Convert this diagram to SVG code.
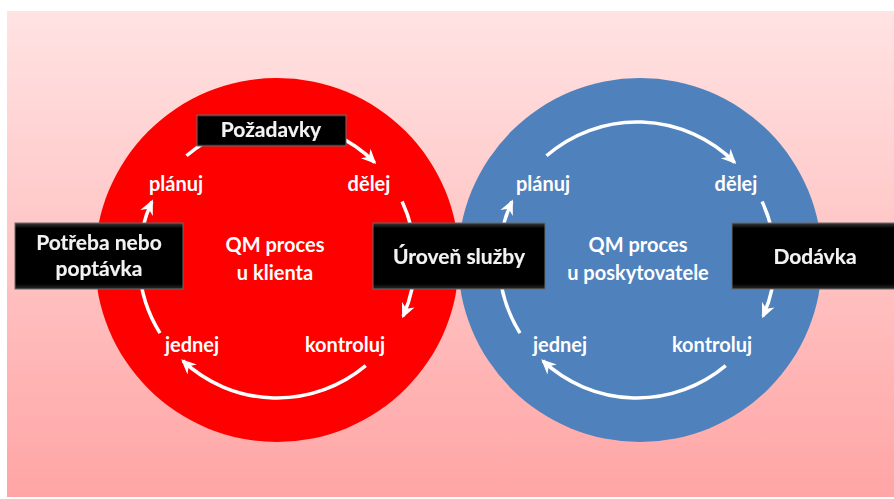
<svg xmlns="http://www.w3.org/2000/svg" width="894" height="499" viewBox="0 0 894 499">
<defs>
<linearGradient id="bg" x1="0" y1="0" x2="0" y2="1">
<stop offset="0" stop-color="#ffe3e3"/>
<stop offset="1" stop-color="#ffa5a5"/>
</linearGradient>
<linearGradient id="boxg" x1="0" y1="0" x2="0" y2="1">
<stop offset="0" stop-color="#3a3a3a"/>
<stop offset="0.08" stop-color="#000"/>
<stop offset="0.92" stop-color="#000"/>
<stop offset="1" stop-color="#2a2a2a"/>
</linearGradient>
<marker id="ah" markerUnits="userSpaceOnUse" markerWidth="16" markerHeight="16" refX="11" refY="7" orient="auto" viewBox="0 0 14 14">
<path d="M0,1 L13,7 L0,13 L4,7 z" fill="#fff"/>
</marker>
<filter id="sh" x="-10%" y="-30%" width="120%" height="160%">
<feGaussianBlur in="SourceAlpha" stdDeviation="1.2"/>
<feOffset dx="0" dy="0" result="b"/>
<feFlood flood-color="#000"/>
<feComposite in2="b" operator="in"/>
<feMerge><feMergeNode/><feMergeNode in="SourceGraphic"/></feMerge>
</filter>
</defs>
<style>
.lbl{font-family:Lato,"Open Sans",sans-serif;font-weight:bold;font-size:20px;fill:#fff;text-anchor:middle}
.btxt{font-family:Lato,"Open Sans",sans-serif;font-weight:bold;font-size:21px;fill:#f2f2f2;text-anchor:middle}
.box{fill:url(#boxg);stroke:#6a6a6a;stroke-width:1}
.arc{fill:none;stroke:#fff;stroke-width:3.5;marker-end:url(#ah)}
</style>
<rect x="0" y="0" width="894" height="499" fill="#fff"/>
<rect x="7" y="11" width="887" height="486" fill="url(#bg)"/>
<g id="client-circle">
<circle cx="277" cy="260" r="182" fill="#ff0000"/>
</g>
<g id="provider-circle">
<circle cx="640" cy="260" r="182" fill="#4f81bd"/>
</g>
<g id="connectors">
<path class="arc" d="M186.5,155.8 A138,138 0 0 1 374.6,162.4"/>
<path class="arc" d="M402.1,201.6 A138,138 0 0 1 403.1,316.1"/>
<path class="arc" d="M365.7,365.7 A138,138 0 0 1 182.9,360.9"/>
<path class="arc" d="M160,333.1 A138,138 0 0 1 151.9,201.6"/>
<path class="arc" d="M546.5,155.8 A138,138 0 0 1 734.6,162.4"/>
<path class="arc" d="M762.1,201.6 A138,138 0 0 1 763.1,316.1"/>
<path class="arc" d="M725.7,365.7 A138,138 0 0 1 542.9,360.9"/>
<path class="arc" d="M520,333.1 A138,138 0 0 1 511.9,201.6"/>
</g>
<g id="client-labels">
<text class="lbl" x="176" y="191">plánuj</text>
<text class="lbl" x="369" y="191">dělej</text>
<text class="lbl" x="192" y="352">jednej</text>
<text class="lbl" x="345" y="352">kontroluj</text>
<text class="lbl" x="275" y="252">QM proces</text>
<text class="lbl" x="275" y="280">u klienta</text>
</g>
<g id="provider-labels">
<text class="lbl" x="543" y="191">plánuj</text>
<text class="lbl" x="736" y="191">dělej</text>
<text class="lbl" x="560" y="352">jednej</text>
<text class="lbl" x="712" y="352">kontroluj</text>
<text class="lbl" x="638" y="252">QM proces</text>
<text class="lbl" x="638" y="280">u poskytovatele</text>
</g>
<g id="pozadavky">
<rect class="box" x="197" y="115" width="149" height="31"/>
<text class="btxt" x="271" y="137" filter="url(#sh)">Požadavky</text>
</g>
<g id="potreba">
<rect class="box" x="15" y="223" width="168" height="66"/>
<text class="btxt" x="99" y="250" filter="url(#sh)">Potřeba nebo</text>
<text class="btxt" x="99" y="276" filter="url(#sh)">poptávka</text>
</g>
<g id="uroven">
<rect class="box" x="373" y="223" width="172" height="66"/>
<text class="btxt" x="459" y="264" filter="url(#sh)">Úroveň služby</text>
</g>
<g id="dodavka">
<rect class="box" x="732" y="223" width="170" height="66"/>
<text class="btxt" x="815" y="264" filter="url(#sh)">Dodávka</text>
</g>
</svg>
